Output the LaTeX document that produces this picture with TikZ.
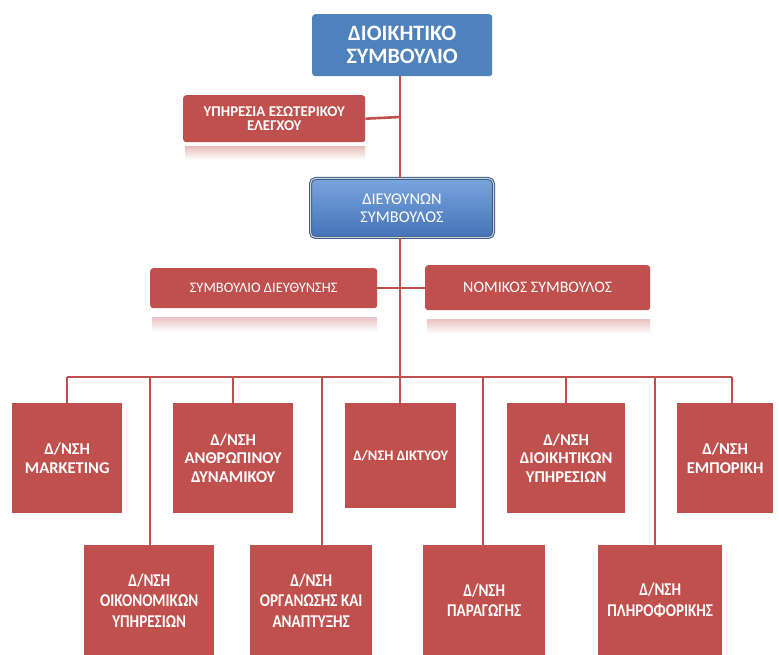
\documentclass[tikz,border=0pt]{standalone}
\usepackage{fontspec}
\setmainfont{Carlito}
\newfontfamily\narrowf{Carlito}[FakeStretch=0.84]
\definecolor{orgred}{HTML}{C0504D}
\definecolor{orgblue}{HTML}{4F81BD}
\definecolor{ceotop}{HTML}{79A5DD}
\definecolor{ceobot}{HTML}{4472B8}
\definecolor{ceoedge}{HTML}{385D8A}
\begin{document}
\begin{tikzpicture}[x=1pt,y=-1pt,
  link/.style={draw=orgred,line width=2.6pt},
  redbox/.style={fill=orgred,text=white,inner sep=0pt,align=center,anchor=north west},
  upbox/.style={redbox,font=\fontsize{16.5}{18.5}\selectfont\bfseries},
  lowbox/.style={redbox,font=\narrowf\fontsize{18}{20.5}\selectfont\bfseries},
  midbox/.style={redbox,rounded corners=3pt,font=\fontsize{14.5}{15}\selectfont},
  refl/.style={top color=orgred!35,bottom color=white,draw=none}]
\useasboundingbox (0,0) rectangle (779,655);
% top level
\node[fill=orgblue,text=white,rounded corners=3pt,inner sep=0pt,align=center,anchor=north west,
  minimum width=180pt,minimum height=62pt,font=\fontsize{22}{23}\selectfont\bfseries]
  (board) at (312,14) {ΔΙΟΙΚΗΤΙΚΟ\\ΣΥΜΒΟΥΛΙΟ};
\node[top color=ceotop,bottom color=ceobot,draw=ceoedge,line width=1pt,double=gray!35,double distance=1pt,
  text=white,rounded corners=5pt,inner sep=0pt,align=center,anchor=north west,
  minimum width=183pt,minimum height=59pt,font=\fontsize{16.4}{18.5}\selectfont]
  (ceo) at (310,178) {ΔΙΕΥΘΥΝΩΝ\\ΣΥΜΒΟΥΛΟΣ};
% staff
\shade[refl] (185,147) rectangle (365,160);
\node[midbox,font=\fontsize{14.9}{14.5}\selectfont\bfseries,minimum width=182pt,minimum height=47pt]
  (audit) at (183,95) {ΥΠΗΡΕΣΙΑ ΕΣΩΤΕΡΙΚΟΥ\\ΕΛΕΓΧΟΥ};
\shade[refl] (152,317) rectangle (377,332);
\node[midbox,minimum width=227pt,minimum height=40pt] (mgmt) at (150,268) {ΣΥΜΒΟΥΛΙΟ ΔΙΕΥΘΥΝΣΗΣ};
\shade[refl] (427,319) rectangle (650,334);
\node[midbox,font=\fontsize{16}{16}\selectfont,minimum width=225pt,minimum height=45pt] (legal) at (425,265) {ΝΟΜΙΚΟΣ ΣΥΜΒΟΥΛΟΣ};
% upper row
\node[upbox,minimum width=110pt,minimum height=110pt] (mkt) at (12,403) {Δ/ΝΣΗ\\MARKETING};
\node[upbox,minimum width=120pt,minimum height=110pt] (hr) at (173,403) {Δ/ΝΣΗ\\ΑΝΘΡΩΠΙΝΟΥ\\ΔΥΝΑΜΙΚΟΥ};
\node[upbox,font=\fontsize{14.5}{16}\selectfont\bfseries,minimum width=111pt,minimum height=105pt] (net) at (345,403) {Δ/ΝΣΗ ΔΙΚΤΥΟΥ};
\node[upbox,minimum width=118pt,minimum height=110pt] (adm) at (507,403) {Δ/ΝΣΗ\\ΔΙΟΙΚΗΤΙΚΩΝ\\ΥΠΗΡΕΣΙΩΝ};
\node[upbox,minimum width=96pt,minimum height=110pt] (com) at (677,403) {Δ/ΝΣΗ\\ΕΜΠΟΡΙΚΗ};
% lower row
\node[lowbox,minimum width=130pt,minimum height=110pt] (fin) at (84,545) {Δ/ΝΣΗ\\ΟΙΚΟΝΟΜΙΚΩΝ\\ΥΠΗΡΕΣΙΩΝ};
\node[lowbox,minimum width=122pt,minimum height=110pt] (org) at (250,545) {Δ/ΝΣΗ\\ΟΡΓΑΝΩΣΗΣ ΚΑΙ\\ΑΝΑΠΤΥΞΗΣ};
\node[lowbox,minimum width=122pt,minimum height=110pt] (prod) at (423,545) {Δ/ΝΣΗ\\ΠΑΡΑΓΩΓΗΣ};
\node[lowbox,minimum width=124pt,minimum height=110pt] (it) at (598,545) {Δ/ΝΣΗ\\ΠΛΗΡΟΦΟΡΙΚΗΣ};
% connectors
\coordinate (tA) at (400,117);
\coordinate (tB) at (400,288);
\coordinate (busL) at (67,377);
\coordinate (busR) at (732,377);
\coordinate (busM) at (400,377);
\draw[link] (board.south -| tA) -- (ceo.north -| tA);
\draw[link] (audit.east) -- (tA);
\draw[link] (ceo.south -| busM) -- (busM);
\draw[link] (mgmt.east |- tB) -- (legal.west |- tB);
\draw[link] (busL) -- (busR);
\draw[link] (busL) -- (busL |- mkt.north);
\draw[link] (233,377) -- (hr.north -| 233,0);
\draw[link] (busM) -- (busM |- net.north);
\draw[link] (566,377) -- (adm.north -| 566,0);
\draw[link] (busR) -- (busR |- com.north);
\draw[link] (150,377) -- (fin.north -| 150,0);
\draw[link] (322,377) -- (org.north -| 322,0);
\draw[link] (483,377) -- (prod.north -| 483,0);
\draw[link] (655,377) -- (it.north -| 655,0);
\end{tikzpicture}
\end{document}
